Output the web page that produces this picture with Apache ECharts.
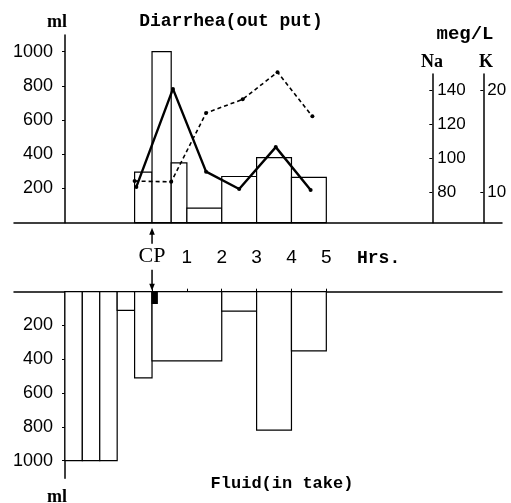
<!DOCTYPE html>
<html>
<head>
<meta charset="utf-8">
<script src="https://cdn.jsdelivr.net/npm/echarts@6/dist/echarts.min.js"></script>
<style>
  html, body { margin: 0; padding: 0; background: #fff; }
  #chart { width: 511px; height: 503px; }
</style>
</head>
<body>
<div id="chart"></div>
<script>
// time axis: hours from CP (cholera phase start), negative = before CP
const hourTicks = [0, 1, 2, 3, 4, 5];
const hrsLabelAt = 6.5;

// diarrhea output (ml), bars span [start, end] hours
const outStart = [-0.5, 0, 0.55, 1, 2, 3, 4];
const outEnd = [0, 0.55, 1, 2, 3, 4, 5];
const outMl = [295, 1000, 350, 85, 270, 380, 265];

// stool electrolytes (meg/L)
const naHrs = [-0.5, 0.55, 1.55, 2.6, 3.6, 4.6];
const naVals = [86.5, 86, 126.5, 134.5, 150.5, 124.5];
const kHrs = [-0.45, 0.6, 1.55, 2.5, 3.55, 4.55];
const kVals = [10.5, 20.1, 12, 10.3, 14.4, 10.2];

// fluid intake (ml)
const inStart = [-2.5, -2, -1.5, -1, -0.5, 0, 2, 3, 4];
const inEnd = [-2, -1.5, -1, -0.5, 0, 2, 3, 4, 5];
const inMl = [1000, 1000, 1000, 110, 510, 410, 115, 820, 350];
const cpStart = [0];
const cpEnd = [0.15];
const cpMl = [70];

// tick labels
const mlTicks = [200, 400, 600, 800, 1000];
const naTicks = [80, 100, 120, 140];
const kTicks = [10, 20];

const X_MIN = -3.96, X_MAX = 10.04;
const SANS = "'Liberation Sans', sans-serif";
const SERIF = "'Liberation Serif', serif";
const MONO = "'Liberation Mono', monospace";

const zip3 = (a, b, c) => a.map((v, i) => [v, b[i], c[i]]);
const zip2 = (a, b) => a.map((v, i) => [v, b[i]]);
const plain = v => String(v);

function boxes(fill) {
  return function (params, api) {
    const p0 = api.coord([api.value(0), 0]);
    const p1 = api.coord([api.value(1), api.value(2)]);
    return {
      type: 'rect',
      shape: {
        x: p0[0], y: Math.min(p0[1], p1[1]),
        width: p1[0] - p0[0], height: Math.abs(p1[1] - p0[1])
      },
      style: { fill: fill, stroke: '#000', lineWidth: 1.2 }
    };
  };
}

function vAxis(extra, ticks, labelSize, margin, inside) {
  return Object.assign({
    type: 'value',
    axisLine: { show: true, onZero: false, lineStyle: { color: '#000', width: 1.5 } },
    axisTick: { show: true, customValues: ticks, length: 3, inside: !!inside, lineStyle: { color: '#000' } },
    axisLabel: { customValues: ticks, margin: margin, color: '#000', fontFamily: SANS,
      fontSize: labelSize, formatter: plain },
    splitLine: { show: false }
  }, extra);
}

const chart = echarts.init(document.getElementById('chart'));

const gridL = 14, gridR = 9;
const option = {
  animation: false,
  backgroundColor: '#fff',
  grid: [
    { left: gridL, right: gridR, top: 35, height: 187.7 },   // output
    { left: gridL, right: gridR, top: 291.7, height: 186.6 }, // intake
    { left: gridL, right: gridR, top: 74, height: 148.7 }     // Na / K
  ],
  xAxis: [
    {
      gridIndex: 0, type: 'value', min: X_MIN, max: X_MAX,
      axisLine: { onZero: false, lineStyle: { color: '#000', width: 1.5 } },
      axisTick: { show: false }, axisLabel: { show: false }, splitLine: { show: false }
    },
    {
      gridIndex: 1, type: 'value', min: X_MIN, max: X_MAX, position: 'top',
      axisLine: { onZero: false, lineStyle: { color: '#000', width: 1.5 } },
      axisTick: { customValues: hourTicks, length: 3, lineStyle: { color: '#000' } },
      axisLabel: {
        customValues: hourTicks.concat([hrsLabelAt]),
        margin: 24,
        formatter: function (v) {
          if (v === 0) return '{cp|CP}';
          if (v === hrsLabelAt) return '{h|Hrs.}';
          return '{d|' + v + '}';
        },
        rich: {
          cp: { fontFamily: SERIF, fontSize: 22, color: '#000' },
          d: { fontFamily: SANS, fontSize: 19, color: '#000' },
          h: { fontFamily: MONO, fontSize: 18, fontWeight: 'bold', color: '#000' }
        }
      },
      splitLine: { show: false }
    },
    { gridIndex: 2, type: 'value', min: X_MIN, max: X_MAX, show: false }
  ],
  yAxis: [
    vAxis({ gridIndex: 0, min: 0, max: 1097, offset: -51 }, mlTicks, 18, 12),
    vAxis({ gridIndex: 1, min: 0, max: 1105, inverse: true, offset: -51 }, mlTicks, 18, 12),
    vAxis({ gridIndex: 2, position: 'right', min: 62, max: 149.4, offset: -69.7 }, naTicks, 17, 5, true),
    vAxis({ gridIndex: 2, position: 'right', min: 7, max: 21.56, offset: -18.7 }, kTicks, 17, 4, true)
  ],
  series: [
    {
      name: 'Diarrhea', type: 'custom', xAxisIndex: 0, yAxisIndex: 0,
      renderItem: boxes('#fff'), encode: { x: [0, 1], y: 2 },
      data: zip3(outStart, outEnd, outMl), z: 1
    },
    {
      name: 'Fluid', type: 'custom', xAxisIndex: 1, yAxisIndex: 1,
      renderItem: boxes('#fff'), encode: { x: [0, 1], y: 2 },
      data: zip3(inStart, inEnd, inMl), z: 1
    },
    {
      name: 'CP', type: 'custom', xAxisIndex: 1, yAxisIndex: 1,
      renderItem: boxes('#000'), encode: { x: [0, 1], y: 2 },
      data: zip3(cpStart, cpEnd, cpMl), z: 2
    },
    {
      name: 'Na', type: 'line', xAxisIndex: 2, yAxisIndex: 2, clip: false,
      data: zip2(naHrs, naVals), symbol: 'circle', symbolSize: 4,
      itemStyle: { color: '#000' },
      lineStyle: { color: '#000', width: 1.6, type: [4, 3] }, z: 3
    },
    {
      name: 'K', type: 'line', xAxisIndex: 2, yAxisIndex: 3, clip: false,
      data: zip2(kHrs, kVals), symbol: 'circle', symbolSize: 4,
      itemStyle: { color: '#000' },
      lineStyle: { color: '#000', width: 2.4 }, z: 3
    }
  ]
};
chart.setOption(option);

// headings and CP arrows
const cx = chart.convertToPixel({ xAxisIndex: 0 }, 0);
const topBase = chart.convertToPixel({ yAxisIndex: 0 }, 0);
const botBase = chart.convertToPixel({ yAxisIndex: 1 }, 0);

function txt(text, x, y, family, size, weight) {
  return {
    type: 'text', x: x, y: y, silent: true,
    style: { text: text, fontFamily: family, fontSize: size, fontWeight: weight || 'normal',
      fill: '#000', align: 'center', verticalAlign: 'middle' }
  };
}
function arrow(x, yFrom, yTip) {
  const dir = yTip < yFrom ? 1 : -1;
  return [
    { type: 'line', shape: { x1: x, y1: yFrom, x2: x, y2: yTip + dir * 5 },
      style: { stroke: '#000', lineWidth: 1.5 } },
    { type: 'polygon', shape: { points: [[x, yTip], [x - 2.8, yTip + dir * 7], [x + 2.8, yTip + dir * 7]] },
      style: { fill: '#000' } }
  ];
}

chart.setOption({
  graphic: [
    txt('Diarrhea(out put)', 231, 21, MONO, 18, 'bold'),
    txt('ml', 57, 22, SERIF, 18, 'bold'),
    txt('meg/L', 465, 34, MONO, 19, 'bold'),
    txt('Na', 432, 62, SERIF, 18, 'bold'),
    txt('K', 486, 62, SERIF, 18, 'bold'),
    txt('Fluid(in take)', 282, 484, MONO, 17, 'bold'),
    txt('ml', 57, 497, SERIF, 18, 'bold')
  ].concat(arrow(cx, topBase + 21, topBase + 5), arrow(cx, botBase - 22, botBase - 1))
});
</script>
</body>
</html>
